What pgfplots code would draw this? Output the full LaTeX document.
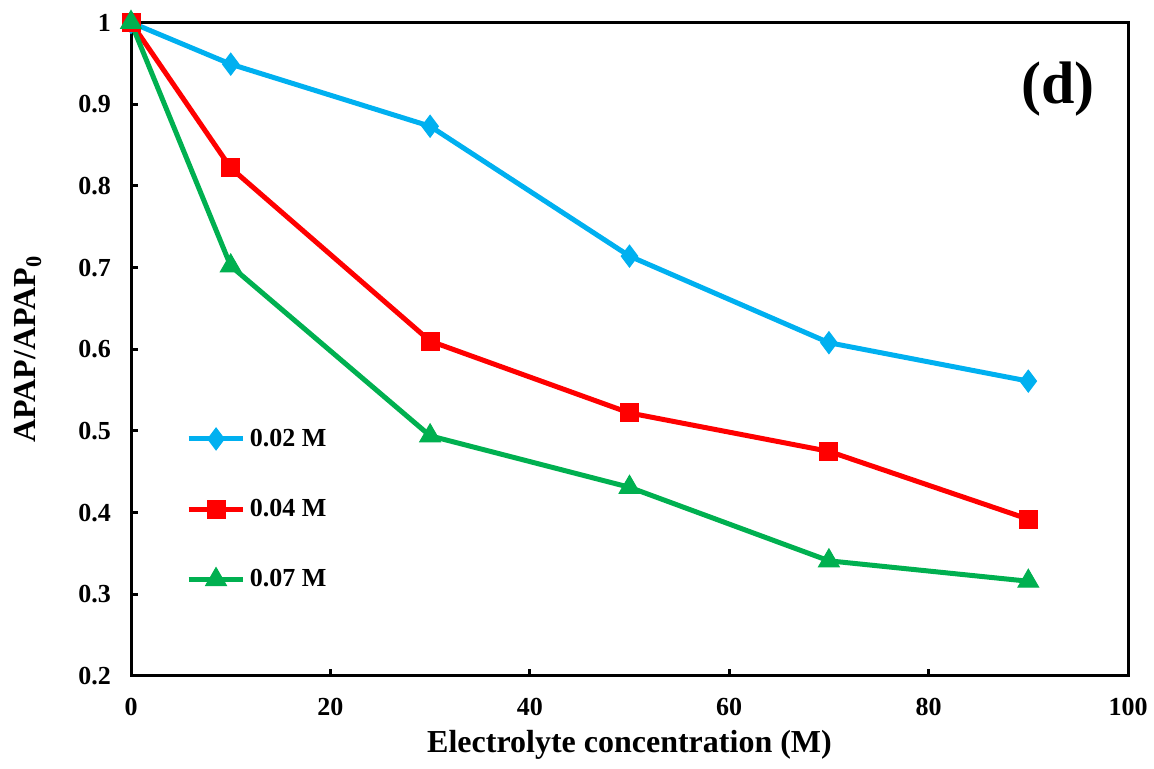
\documentclass[border=0pt]{standalone}
\usepackage{pgfplots}
\pgfplotsset{compat=1.18}
\usepackage{fontspec}
\setmainfont{Liberation Serif}
\definecolor{cblue}{RGB}{0,176,240}
\definecolor{cred}{RGB}{255,0,0}
\definecolor{cgreen}{RGB}{0,176,80}
\begin{document}
\begin{tikzpicture}
\begin{axis}[
  scale only axis, width=498.5pt, height=326.75pt,
  xmin=0, xmax=100, ymin=0.2, ymax=1,
  xtick={0,20,...,100}, ytick={0.2,0.3,...,1.0},
  yticklabel style={/pgf/number format/fixed,/pgf/number format/precision=1,xshift=-6.5pt},
  xticklabel style={yshift=-7.5pt},
  /pgf/number format/assume math mode=true,
  tick label style={font=\fontsize{13}{15}\selectfont\bfseries},
  axis line style={line width=1.5pt},
  tick style={line width=1.5pt,black},
  major tick length=3.5pt,
  tick align=inside,
  xtick pos=bottom, ytick pos=left,
  xlabel={Electrolyte concentration (M)},
  ylabel={APAP/APAP$_\mathbf{0}$},
  label style={font=\fontsize{16}{18}\selectfont\bfseries},
  xlabel style={at={([yshift=-34.5pt]axis description cs:0.5,0)}, anchor=center},
  ylabel style={at={([xshift=-51.5pt]axis description cs:0,0.5)}, anchor=center},
  clip=false,
  legend style={at={(0.055,0.385)}, anchor=north west, draw=none, fill=none,
    font=\fontsize{13}{14}\selectfont\bfseries, row sep=21pt,
    inner sep=0pt, cells={anchor=west}},
  legend image code/.code={\draw[mark repeat=2,mark phase=2] plot coordinates {(0cm,0cm)(0.48cm,0cm)(0.96cm,0cm)};},
  every axis plot/.append style={line width=2.5pt},
]
\addplot[color=cblue, mark=diamond*, mark size=5.5pt, mark options={solid,line width=0.5pt}]
  coordinates {(0,1.000) (10,0.949) (30,0.873) (50,0.714) (70,0.608) (90,0.561)};
\addlegendentry{0.02 M}
\addplot[color=cred, mark=square*, mark size=4.5pt, mark options={solid,line width=0.5pt}]
  coordinates {(0,1.000) (10,0.822) (30,0.610) (50,0.522) (70,0.475) (90,0.392)};
\addlegendentry{0.04 M}
\addplot[color=cgreen, mark=triangle*, mark size=6pt, mark options={solid,line width=0.5pt}]
  coordinates {(0,1.000) (10,0.702) (30,0.494) (50,0.431) (70,0.341) (90,0.316)};
\addlegendentry{0.07 M}
\node[font=\fontsize{30}{33}\selectfont\bfseries] at (axis cs:93,0.918) {(d)};
\end{axis}
\pgfresetboundingbox
\path ([xshift=-65.5pt,yshift=-46.5pt]current axis.south west) rectangle ([xshift=13pt,yshift=11.25pt]current axis.north east);
\end{tikzpicture}
\end{document}
